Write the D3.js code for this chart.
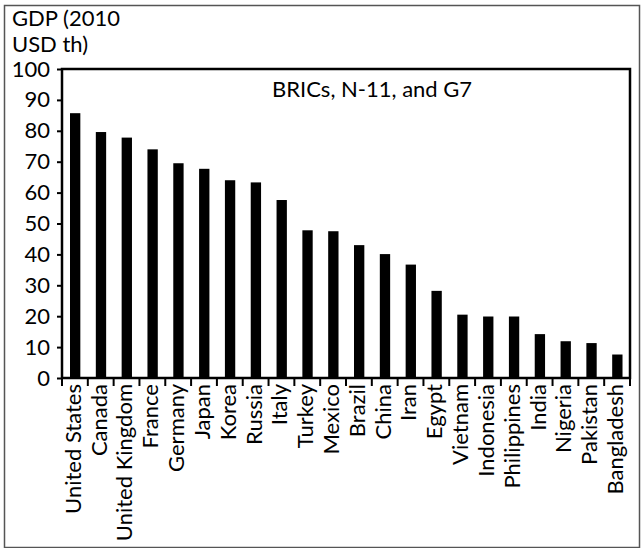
<!DOCTYPE html>
<html>
<head>
    <style>
    body { margin: 0; background: #fff; }
    text { font-family: Lato, "Open Sans", sans-serif; fill: #000; }
    </style>
</head>
<body>
    <svg width="641" height="548"></svg>
    <script src="https://d3js.org/d3.v7.min.js"></script>
    <script>

        var countries = ["United States", "Canada", "United Kingdom", "France", "Germany", "Japan",
            "Korea", "Russia", "Italy", "Turkey", "Mexico", "Brazil", "China", "Iran", "Egypt",
            "Vietnam", "Indonesia", "Philippines", "India", "Nigeria", "Pakistan", "Bangladesh"];
        var gdp = [85.7, 79.6, 77.8, 74, 69.5, 67.7, 64, 63.3, 57.6, 47.8, 47.5, 43, 40.1, 36.7, 28.2,
            20.5, 19.9, 19.9, 14.2, 11.9, 11.3, 7.6];
        var yTicks = [0, 10, 20, 30, 40, 50, 60, 70, 80, 90, 100];
        var yTitle = ["GDP (2010", "USD th)"];
        var chartTitle = "BRICs, N-11, and G7";

        var fs = 22;

        var svg = d3.select("svg"),
            margin = { top: 69, right: 11, bottom: 170, left: 62 },
            width = +svg.attr("width") - margin.left - margin.right,
            height = +svg.attr("height") - margin.top - margin.bottom;

        // outer border
        svg.append("rect")
            .attr("x", 4.5).attr("y", 5.5)
            .attr("width", 635).attr("height", 542)
            .attr("fill", "none")
            .attr("stroke", "#555")
            .attr("stroke-width", 1.5);

        var g = svg.append("g").attr("transform", "translate(" + margin.left + "," + margin.top + ")");

        var x = d3.scaleBand().domain(countries).range([0, width]).padding(0);
        var y = d3.scaleLinear().domain([0, 100]).range([height, 0]);

        var bw = x.bandwidth();

        g.selectAll(".bar")
            .data(countries)
            .enter().append("rect")
            .attr("class", "bar")
            .attr("x", function (d) { return x(d) + bw * 0.31; })
            .attr("width", bw * 0.4)
            .attr("y", function (d, i) { return y(gdp[i]); })
            .attr("height", function (d, i) { return height - y(gdp[i]); })
            .attr("fill", "#000");

        // y axis
        var yAxis = g.append("g")
            .call(d3.axisLeft(y).tickValues(yTicks).tickSize(5).tickPadding(7));
        yAxis.select(".domain").remove();
        yAxis.selectAll("line").attr("stroke-width", 2);
        yAxis.selectAll("text").attr("font-size", fs).attr("font-family", "Lato");

        // frame
        g.append("rect")
            .attr("width", width).attr("height", height)
            .attr("fill", "none")
            .attr("stroke", "#000")
            .attr("stroke-width", 2.5);

        // x ticks at band edges
        var edges = countries.map(function (d) { return x(d); }).concat([width]);
        g.selectAll(".xtick")
            .data(edges)
            .enter().append("line")
            .attr("x1", function (d) { return d; })
            .attr("x2", function (d) { return d; })
            .attr("y1", height)
            .attr("y2", height + 8)
            .attr("stroke", "#000")
            .attr("stroke-width", 2);

        g.selectAll(".xlab")
            .data(countries)
            .enter().append("text")
            .attr("transform", function (d) {
                return "translate(" + (x(d) + bw / 2 - 2) + "," + (height + 6) + ") rotate(-90)";
            })
            .attr("text-anchor", "end")
            .attr("dy", "0.36em")
            .attr("font-size", fs)
            .text(function (d) { return d; });

        g.append("text")
            .attr("x", 210)
            .attr("y", 28)
            .attr("font-size", fs)
            .text(chartTitle);

        svg.selectAll(".ytitle")
            .data(yTitle)
            .enter().append("text")
            .attr("x", 12)
            .attr("y", function (d, i) { return 26 + i * 26; })
            .attr("font-size", fs)
            .text(function (d) { return d; });

    </script>
</body>
</html>
